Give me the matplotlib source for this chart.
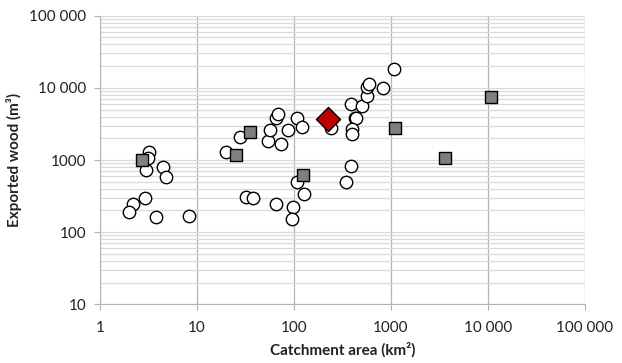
import numpy as np
import matplotlib.pyplot as plt
from matplotlib.ticker import FixedLocator, FixedFormatter, LogLocator, NullFormatter

plt.rcParams['font.family'] = ['Lato', 'DejaVu Sans']

# white circles
circ_x = [3.2, 3.1, 3.0, 4.5, 4.8, 2.9, 2.2, 2.0, 3.8, 8.3,
          20, 28, 32, 38, 54, 57, 65, 68, 74, 87, 108, 120,
          108, 127, 65, 98, 96, 240, 385, 500, 425, 440, 400, 395,
          385, 345, 560, 560, 590, 830, 1070]
circ_y = [1300, 1050, 720, 800, 580, 300, 245, 190, 162, 165,
          1280, 2100, 305, 300, 1830, 2630, 3800, 4350, 1650, 2580, 3780, 2900,
          490, 335, 243, 220, 154, 2800, 6000, 5600, 3850, 3780, 2700, 2300,
          830, 495, 7700, 10200, 11400, 10000, 18200]

# grey squares
sq_x = [2.7, 25, 35, 124, 1100, 3600, 10700]
sq_y = [1000, 1160, 2450, 610, 2750, 1080, 7400]

# red diamond
dia_x = [225]
dia_y = [3700]

fig = plt.figure(figsize=(6.22, 3.63), dpi=100)
ax = fig.add_axes([100 / 622, 1 - 304.3 / 363, 485 / 622, 288.6 / 363])
ax.set_xscale('log')
ax.set_yscale('log')
ax.set_xlim(1, 100000)
ax.set_ylim(10, 100000)

ax.yaxis.set_minor_locator(LogLocator(base=10, subs=np.arange(2, 10)))
ax.yaxis.set_minor_formatter(NullFormatter())
ax.xaxis.set_minor_locator(FixedLocator([]))
ax.grid(True, axis='y', which='both', color='#d9d9d9', lw=0.9)
ax.grid(True, axis='x', which='major', color='#b4b4b4', lw=0.9)
ax.set_axisbelow(True)

xt = [1, 10, 100, 1000, 10000, 100000]
xl = ['1', '10', '100', '1000', '10 000', '100 000']
yt = [10, 100, 1000, 10000, 100000]
yl = ['10', '100', '1000', '10 000', '100 000']
ax.xaxis.set_major_locator(FixedLocator(xt))
ax.xaxis.set_major_formatter(FixedFormatter(xl))
ax.yaxis.set_major_locator(FixedLocator(yt))
ax.yaxis.set_major_formatter(FixedFormatter(yl))
ax.tick_params(axis='both', which='major', length=4, color='#b4b4b4',
               labelsize=11, labelcolor='#222222')
ax.tick_params(axis='y', which='minor', length=0)
ax.tick_params(axis='x', pad=8)
ax.tick_params(axis='y', pad=6)

for s in ['top', 'right']:
    ax.spines[s].set_visible(False)
ax.spines['left'].set_color('#b4b4b4')
ax.spines['bottom'].set_color('#b4b4b4')

ax.scatter(circ_x, circ_y, s=80, marker='o', facecolor='white',
           edgecolor='black', lw=1.0, zorder=3)
ax.scatter(sq_x, sq_y, s=75, marker='s', facecolor='#7f7f7f',
           edgecolor='black', lw=1.0, zorder=4)
ax.scatter(dia_x, dia_y, s=150, marker='D', facecolor='#c00000',
           edgecolor='black', lw=1.0, zorder=5)

ax.set_xlabel('Catchment area (km²)', fontsize=11, fontweight='bold',
              color='#222222')
ax.set_ylabel('Exported wood (m³)', fontsize=11, fontweight='bold',
              color='#222222')
ax.xaxis.set_label_coords(0.5, -(342 - 304.3) / 288.6)
ax.yaxis.set_label_coords(-(100 - 22) / 485, 0.5)

fig.savefig('out.png', dpi=100)
